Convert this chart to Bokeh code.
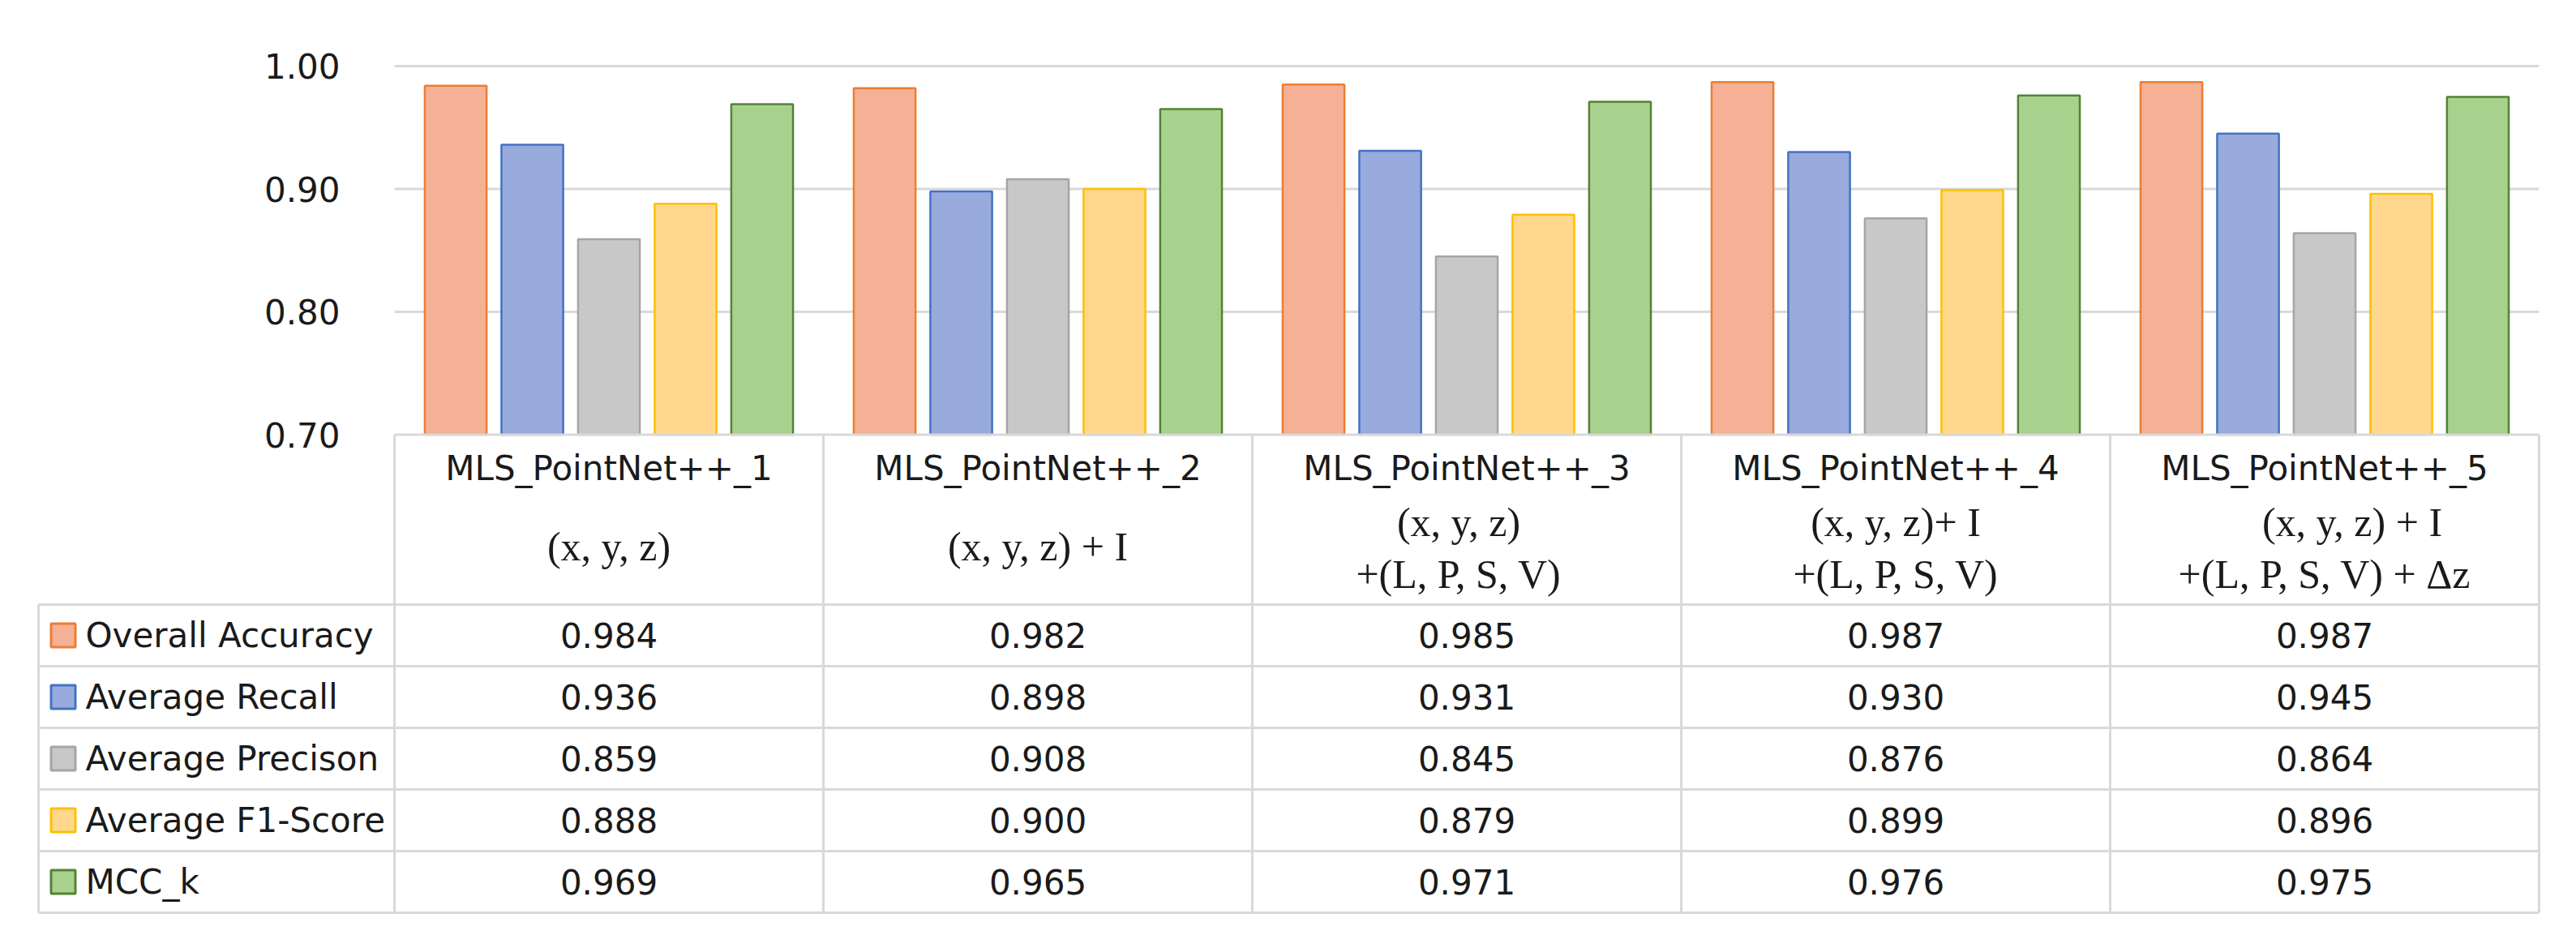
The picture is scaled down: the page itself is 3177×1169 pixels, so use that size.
from bokeh.plotting import figure
from bokeh.models import Range1d, LinearAxis, FixedTicker, NumeralTickFormatter
from bokeh.core.properties import value
from bokeh.embed import file_html
from bokeh.resources import INLINE

# ---------------- data ----------------
models = ["MLS_PointNet++_1", "MLS_PointNet++_2", "MLS_PointNet++_3",
          "MLS_PointNet++_4", "MLS_PointNet++_5"]
features_single = ["(x, y, z)", "(x, y, z) + I", "", "", ""]
features_line1 = ["", "", "(x, y, z)", "(x, y, z)+ I", "(x, y, z) + I"]
features_line2 = ["", "", "+(L, P, S, V)", "+(L, P, S, V)", "+(L, P, S, V) + Δz"]
metrics = ["Overall Accuracy", "Average Recall", "Average Precison",
           "Average F1-Score", "MCC_k"]
overall_accuracy = [0.984, 0.982, 0.985, 0.987, 0.987]
average_recall = [0.936, 0.898, 0.931, 0.930, 0.945]
average_precision = [0.859, 0.908, 0.845, 0.876, 0.864]
average_f1 = [0.888, 0.900, 0.879, 0.899, 0.896]
mcc_k = [0.969, 0.965, 0.971, 0.976, 0.975]
y_ticks = [0.70, 0.80, 0.90, 1.00]

series = [overall_accuracy, average_recall, average_precision, average_f1, mcc_k]
fills = ["#F4B196", "#99AADC", "#C8C8C8", "#FFD88D", "#A9D18E"]
lines = ["#ED7D31", "#4472C4", "#A5A5A5", "#FFC000", "#548235"]

# ---------------- layout constants (pixels) ----------------
W, H = 3160, 1150
COL_PX = 529.0          # width of one model column
X0 = 486.0              # x of the plot's left edge
Y100 = 81.0             # y of value 1.00
UNIT_PX = 1515.0        # pixels per 1.0 of value
Y070 = Y100 + 0.30 * UNIT_PX
ROW_PX = 76.0
HEADER = (745.0 - Y070) / ROW_PX
LEG_LEFT = (47.0 - X0) / COL_PX

x_start = (0 - X0) / COL_PX
x_end = (W - X0) / COL_PX
y_end = 1.0 + Y100 / UNIT_PX
y_start = 1.0 - (H - Y100) / UNIT_PX

FONT = "DejaVu Sans"
FS = "42px"
SERIF = "Liberation Serif"
SFS = "50px"
TXT = "#1A1A1A"
GRID = "#D9D9D9"
LW = 3

p = figure(width=W, height=H, output_backend="svg", toolbar_location=None,
           x_range=Range1d(x_start, x_end), y_range=Range1d(y_start, y_end),
           x_axis_location=None, y_axis_location=None,
           min_border=0, outline_line_color=None)
p.xgrid.visible = False
p.ygrid.visible = False
p.extra_y_ranges = {"table": Range1d(start=(H - Y070) / ROW_PX,
                                     end=(0 - Y070) / ROW_PX)}

# y axis fixed at the plot's left edge
yaxis = LinearAxis(fixed_location=0, ticker=FixedTicker(ticks=y_ticks),
                   formatter=NumeralTickFormatter(format="0.00"))
yaxis.axis_line_color = None
yaxis.major_tick_line_color = None
yaxis.minor_tick_line_color = None
yaxis.major_label_standoff = 61
yaxis.major_label_text_font = FONT
yaxis.major_label_text_font_size = FS
yaxis.major_label_text_color = TXT
p.add_layout(yaxis, "left")

n = len(models)
# gridlines (0.80 .. 1.00)
gy = y_ticks[1:]
p.segment(x0=[0] * len(gy), x1=[n] * len(gy), y0=gy, y1=gy,
          line_color=GRID, line_width=LW)

# bars
STEP = 0.1786
BW = 0.144
for j, vals in enumerate(series):
    xs = [i + 0.5 + (j - 2) * STEP for i in range(n)]
    p.vbar(x=xs, top=vals, bottom=y_ticks[0], width=BW,
           fill_color=fills[j], line_color=lines[j], line_width=2.5)

# ---------------- table ----------------
nr = len(metrics)
bottom = HEADER + nr
p.segment(x0=[0], x1=[n], y0=[0], y1=[0], line_color=GRID, line_width=LW,
          y_range_name="table")
hy = [HEADER + r for r in range(nr + 1)]
p.segment(x0=[LEG_LEFT] * len(hy), x1=[n] * len(hy), y0=hy, y1=hy,
          line_color=GRID, line_width=LW, y_range_name="table")
vx = list(range(n + 1))
p.segment(x0=vx, x1=vx, y0=[0] * len(vx), y1=[bottom] * len(vx),
          line_color=GRID, line_width=LW, y_range_name="table")
p.segment(x0=[LEG_LEFT], x1=[LEG_LEFT], y0=[HEADER], y1=[bottom],
          line_color=GRID, line_width=LW, y_range_name="table")

# legend keys + metric names
row_y = [HEADER + r + 0.5 for r in range(nr)]
key_x = LEG_LEFT + 30.5 / COL_PX
p.rect(x=[key_x] * nr, y=row_y, width=30, height=29,
       width_units="screen", height_units="screen",
       fill_color=fills, line_color=lines, line_width=3, y_range_name="table")
p.text(x=[LEG_LEFT + 58.0 / COL_PX] * nr, y=row_y, text=metrics,
       text_font=value(FONT), text_font_size=FS, text_color=TXT,
       text_align="left", text_baseline="middle", y_range_name="table")

# values
vx_, vy_, vt_ = [], [], []
for r, vals in enumerate(series):
    for i, v in enumerate(vals):
        vx_.append(i + 0.5)
        vy_.append(HEADER + r + 0.5)
        vt_.append(f"{v:.3f}")
p.text(x=vx_, y=vy_, text=vt_, text_font=value(FONT), text_font_size=FS,
       text_color=TXT, text_align="center", text_baseline="middle",
       y_range_name="table")

# header
cx = [i + 0.5 for i in range(n)]
p.text(x=cx, y=[(577 - Y070) / ROW_PX] * n, text=models, text_font=value(FONT),
       text_font_size=FS, text_color=TXT, text_align="center",
       text_baseline="middle", y_range_name="table")
p.text(x=cx, y=[(673 - Y070) / ROW_PX] * n, text=features_single,
       text_font=value(SERIF), text_font_size=SFS, text_color=TXT,
       text_align="center", text_baseline="middle", y_range_name="table")
line1_dx = [0, 0, -10, 0, 34]
line2_dx = [0, 0, -10, 0, 0]
p.text(x=cx, y=[(643 - Y070) / ROW_PX] * n, text=features_line1, x_offset=line1_dx,
       text_font=value(SERIF), text_font_size=SFS, text_color=TXT,
       text_align="center", text_baseline="middle", y_range_name="table")
p.text(x=cx, y=[(707 - Y070) / ROW_PX] * n, text=features_line2, x_offset=line2_dx,
       text_font=value(SERIF), text_font_size=SFS, text_color=TXT,
       text_align="center", text_baseline="middle", y_range_name="table")

open("out.html", "w").write(file_html(p, INLINE))
